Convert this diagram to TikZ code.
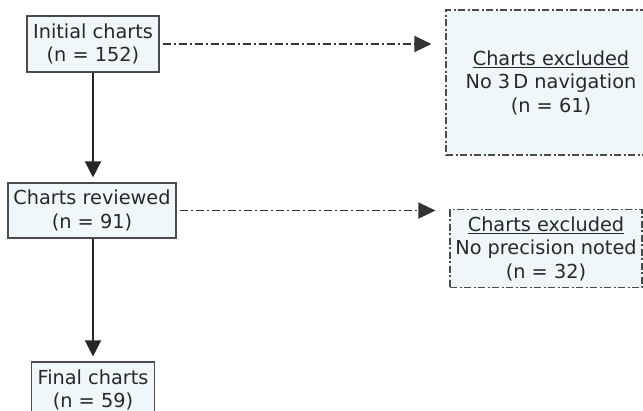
\documentclass[tikz,border=0pt]{standalone}
\usepackage{fontspec}
\setmainfont{DejaVu Sans}
\usepackage{tikz}
\usetikzlibrary{arrows.meta,positioning,calc}
\definecolor{boxfill}{RGB}{240,247,250}
\definecolor{boxline}{RGB}{75,75,75}
\definecolor{inkgray}{RGB}{40,40,40}

\tikzset{
  chartbox/.style={draw=boxline, line width=1.1pt, fill=boxfill, align=center, inner sep=0pt,
    text=inkgray, font=\fontsize{19.3}{23.5}\selectfont},
  exclbox/.style={chartbox, dash pattern=on 7pt off 2.5pt on 2pt off 2.5pt},
  downarrow/.style={line width=1.3pt, black!85, -{Triangle[width=16pt,length=16pt]}, shorten >=5pt},
  sidearrow/.style={line width=1.3pt, black!80, dash pattern=on 8pt off 3pt on 2pt off 3pt,
    -{Triangle[width=16pt,length=17pt]}, shorten <=3pt, shorten >=14pt}
}

\begin{document}
\begin{tikzpicture}[x=1pt,y=-1pt]
        \useasboundingbox[fill=white] (0,0) rectangle (643,410);

        % main path
        \node[chartbox, minimum width=132pt, minimum height=56pt] (init) at (93,44) {Initial charts\\(n = 152)};
        \node[chartbox, minimum width=168pt, minimum height=55pt] (rev) at (92,210.5) {Charts reviewed\\(n = 91)};
        \node[chartbox, minimum width=123pt, minimum height=56pt] (final) at (93,390) {Final charts\\(n = 59)};

        % excluded charts
        \node[exclbox, minimum width=210pt, minimum height=145pt] (excla) at (551,82.5) {\underline{Charts excluded}\\No 3\,D navigation\\(n = 61)};
        \node[exclbox, minimum width=192pt, minimum height=78pt] (exclb) at (546,248.5) {\underline{Charts excluded}\\No precision noted\\(n = 32)};

        \draw[downarrow] (init.south) -- (rev.north -| init.south);
        \draw[downarrow] (rev.south -| init.south) -- (final.north -| init.south);

        \draw[sidearrow] (init.east) -- (init.east -| excla.west);
        \draw[sidearrow] (rev.east) -- (rev.east -| exclb.west);

      \end{tikzpicture}
\end{document}
